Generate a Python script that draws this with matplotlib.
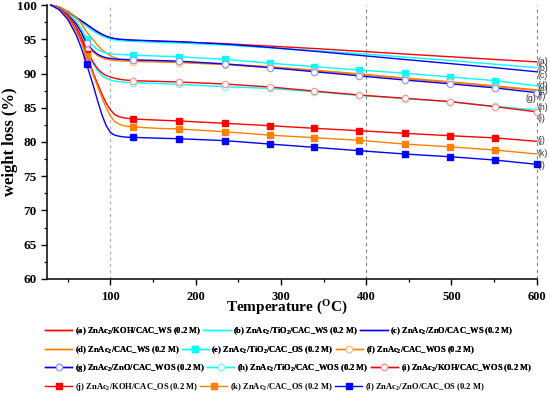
import matplotlib
matplotlib.use('Agg')
import matplotlib.pyplot as plt
from matplotlib.ticker import MultipleLocator

plt.rcParams['font.family'] = 'Liberation Serif'
plt.rcParams['font.weight'] = 'bold'
plt.rcParams['mathtext.fontset'] = 'custom'
plt.rcParams['mathtext.rm'] = 'Liberation Serif:bold'
plt.rcParams['mathtext.bf'] = 'Liberation Serif:bold'
plt.rcParams['mathtext.it'] = 'Liberation Serif:bold'

# ---------------- data ----------------
temperature = [30, 40, 50, 60, 66, 72, 80, 85, 90, 95, 100, 105, 110, 115, 120, 127,
               140, 155, 180, 234, 287, 339, 392, 445, 498, 551, 600]

w_a = [100, 99.7, 99.0, 98.1, 97.6, 97.1, 96.4, 96.0, 95.7, 95.4, 95.2, 95.05, 94.97, 94.92, 94.88, 94.83,
       94.77, 94.7, 94.6, 94.35, 94.0, 93.65, 93.25, 92.85, 92.45, 92.05, 91.7]
w_b = [100, 99.7, 99.0, 98.0, 97.4, 96.9, 96.2, 95.8, 95.5, 95.25, 95.05, 94.9, 94.82, 94.77, 94.73, 94.68,
       94.62, 94.55, 94.45, 94.15, 93.75, 93.35, 92.9, 92.4, 91.9, 91.35, 90.85]
w_c = [100, 99.7, 99.05, 98.2, 97.7, 97.2, 96.5, 96.1, 95.75, 95.45, 95.25, 95.1, 95.02, 94.97, 94.93, 94.88,
       94.82, 94.75, 94.65, 94.3, 93.8, 93.25, 92.65, 92.05, 91.45, 90.85, 90.25]
w_d = [100, 99.7, 99.1, 98.2, 97.3, 96.1, 94.9, 94.1, 93.5, 93.0, 92.6, 92.3, 92.1, 92.0, 91.95, 91.9,
       91.85, 91.8, 91.7, 91.4, 91.0, 90.5, 89.95, 89.35, 88.8, 88.2, 87.6]
w_e = [100, 99.6, 98.8, 97.6, 96.5, 95.0, 94.0, 93.5, 93.2, 93.0, 92.9, 92.82, 92.78, 92.75, 92.72, 92.68,
       92.62, 92.55, 92.45, 92.07, 91.5, 91.0, 90.5, 90.05, 89.5, 88.95, 88.2]
w_f = [100, 99.6, 98.7, 97.3, 96.0, 94.2, 93.1, 92.6, 92.3, 92.1, 91.98, 91.9, 91.85, 91.82, 91.8, 91.75,
       91.72, 91.68, 91.6, 91.3, 90.9, 90.4, 89.85, 89.25, 88.7, 88.1, 87.5]
w_g = [100, 99.5, 98.6, 97.2, 96.0, 94.4, 93.3, 92.8, 92.5, 92.3, 92.2, 92.13, 92.08, 92.05, 92.03, 92.0,
       91.95, 91.9, 91.8, 91.4, 90.85, 90.27, 89.65, 89.05, 88.5, 87.9, 87.2]
w_h = [100, 99.5, 98.5, 96.8, 95.3, 93.4, 91.4, 90.4, 89.7, 89.3, 89.05, 88.9, 88.8, 88.74, 88.7, 88.66,
       88.6, 88.54, 88.42, 88.07, 87.83, 87.34, 86.8, 86.35, 85.9, 85.2, 84.67]
w_i = [100, 99.5, 98.5, 96.8, 95.3, 93.4, 91.6, 90.7, 90.1, 89.7, 89.5, 89.3, 89.17, 89.08, 89.02, 88.95,
       88.9, 88.85, 88.76, 88.47, 88.03, 87.44, 86.86, 86.38, 85.9, 85.16, 84.4]
w_j = [100, 99.4, 98.2, 96.3, 94.8, 92.9, 90.0, 88.5, 87.0, 85.7, 84.7, 84.0, 83.7, 83.55, 83.45, 83.36,
       83.28, 83.2, 83.07, 82.73, 82.38, 82.0, 81.65, 81.27, 80.92, 80.6, 80.1]
w_k = [100, 99.4, 98.1, 96.1, 94.5, 92.5, 89.7, 88.1, 86.5, 85.0, 83.8, 83.0, 82.6, 82.4, 82.3, 82.19,
       82.1, 82.0, 81.9, 81.5, 81.0, 80.63, 80.25, 79.7, 79.3, 78.83, 78.25]
w_l = [100, 99.3, 97.9, 95.6, 93.7, 91.4, 88.2, 86.0, 84.0, 82.4, 81.4, 81.0, 80.85, 80.75, 80.7, 80.68,
       80.62, 80.56, 80.48, 80.2, 79.7, 79.22, 78.73, 78.25, 77.85, 77.37, 76.74]

labels = [
    r'(a) ZnAc$_2$/KOH/CAC_WS (0.2 M)',
    r'(b) ZnAc$_2$/TiO$_2$/CAC_WS (0.2 M)',
    r'(c) ZnAc$_2$/ZnO/CAC_WS (0.2 M)',
    r'(d) ZnAc$_2$/CAC_WS (0.2 M)',
    r'(e) ZnAc$_2$/TiO$_2$/CAC_OS (0.2 M)',
    r'(f) ZnAc$_2$/CAC_WOS (0.2 M)',
    r'(g) ZnAc$_2$/ZnO/CAC_WOS (0.2 M)',
    r'(h) ZnAc$_2$/TiO$_2$/CAC_WOS (0.2 M)',
    r'(i) ZnAc$_2$/KOH/CAC_WOS (0.2 M)',
    r'(j) ZnAc$_2$/KOH/CAC_OS (0.2 M)',
    r'(k) ZnAc$_2$/CAC_OS (0.2 M)',
    r'(l) ZnAc$_2$/ZnO/CAC_OS (0.2 M)',
]
end_tags = ['(a)', '(b)', '(c)', '(d)', '(e)', '(f)', '(g)', '(h)', '(i)', '(j)', '(k)', '(l)']
end_tag_y = [91.68, 90.66, 89.64, 88.32, 87.59, 86.57, 86.42, 85.1, 83.5, 80.15, 78.25, 76.5]

series = [w_a, w_b, w_c, w_d, w_e, w_f, w_g, w_h, w_i, w_j, w_k, w_l]

RED, CYAN, BLUE, ORANGE = '#FF0000', '#00FFFF', '#0000FF', '#FF8000'
PALE = {RED: '#FF9999', CYAN: '#88F0F0', BLUE: '#9999FF', ORANGE: '#FFC080'}
colors = [RED, CYAN, BLUE, ORANGE, CYAN, ORANGE, BLUE, CYAN, RED, RED, ORANGE, BLUE]
markers = [None, None, None, None, 's', 'o', 'o', 'o', 'o', 's', 's', 's']
mk_idx = [5, 15, 18, 19, 20, 21, 22, 23, 24, 25]
mk_idx_end = mk_idx + [26]
end_marker = [False, False, False, False, False, False, True, True, True, False, False, True]

# ---------------- figure ----------------
fig = plt.figure(figsize=(5.5, 3.97), dpi=100)
ax = fig.add_axes([47.3 / 550, 1 - 279 / 397, (536.7 - 47.3) / 550, (279 - 5) / 397])

ax.axvline(100, color='#b0b0b0', lw=0.9, ls=(0, (2.5, 2.5)), zorder=1, clip_on=False)
for x in (400, 600):
    ax.axvline(x, color='#808080', lw=0.8, ls=(0, (3, 3)), zorder=1, clip_on=False)

handles = []
for w, c, m, lab, em in zip(series, colors, markers, labels, end_marker):
    kw = dict(color=c, lw=1.0, label=lab, zorder=3, clip_on=False)
    if m == 's':
        kw.update(marker='s', markersize=4.0, markerfacecolor=c, markeredgecolor=c,
                  markevery=(mk_idx_end if em else mk_idx))
    elif m == 'o':
        kw.update(marker='o', markersize=4.6, markerfacecolor='white', markeredgecolor=PALE[c],
                  markeredgewidth=0.9, markevery=(mk_idx_end if em else mk_idx))
    ln, = ax.plot(temperature, w, **kw)
    handles.append(ln)

ax.set_xlim(26, 600)
ax.set_ylim(60, 100)
ax.xaxis.set_major_locator(MultipleLocator(100))
ax.xaxis.set_minor_locator(MultipleLocator(50))
ax.yaxis.set_major_locator(MultipleLocator(5))
ax.yaxis.set_minor_locator(MultipleLocator(2.5))
ax.spines['top'].set_visible(False)
ax.spines['right'].set_visible(False)
ax.spines['left'].set_linewidth(1.1)
ax.spines['bottom'].set_linewidth(1.1)
ax.tick_params(which='major', direction='out', length=4.5, width=1.0, labelsize=9.5, pad=3)
ax.tick_params(axis='x', which='major', labelsize=9, pad=4)
ax.tick_params(which='minor', direction='out', length=2.5, width=0.9)
for lbl in ax.get_xticklabels() + ax.get_yticklabels():
    lbl.set_fontweight('bold')

for tag, ty in zip(end_tags, end_tag_y):
    if tag == '(g)':
        ax.text(599, ty, tag, ha='right', va='center', fontsize=6.3, family='Liberation Sans',
                fontweight='normal', color='#333333', clip_on=False)
    else:
        ax.text(601.5, ty, tag, ha='left', va='center', fontsize=6.3, family='Liberation Sans',
                fontweight='normal', color='#333333', clip_on=False)

fig.text(287 / 550, 1 - 308 / 397, r'Temperature ($^{\mathbf{O}}$C)', ha='center', va='center',
         fontsize=11, fontweight='bold')
fig.text(10 / 550, 1 - 142 / 397, 'weight loss (%)', ha='center', va='center', rotation=90,
         fontsize=12, fontweight='bold')

row_y = [330.7, 349.7, 368.3, 387.0]
legs = []
for r in range(4):
    h = handles[3 * r:3 * r + 3]
    leg = fig.legend(handles=h, labels=[x.get_label() for x in h], ncol=3, loc='center left',
                     bbox_to_anchor=(45 / 550, 1 - row_y[r] / 397), bbox_transform=fig.transFigure,
                     frameon=False, borderpad=0, borderaxespad=0, handlelength=3.2,
                     handletextpad=0.3, columnspacing=0.3, numpoints=1,
                     prop={'family': 'Liberation Serif', 'weight': 'bold', 'size': 6.1})
    legs.append(leg)
for leg in legs[:-1]:
    fig.add_artist(leg)

fig.savefig('out.png', dpi=100)
